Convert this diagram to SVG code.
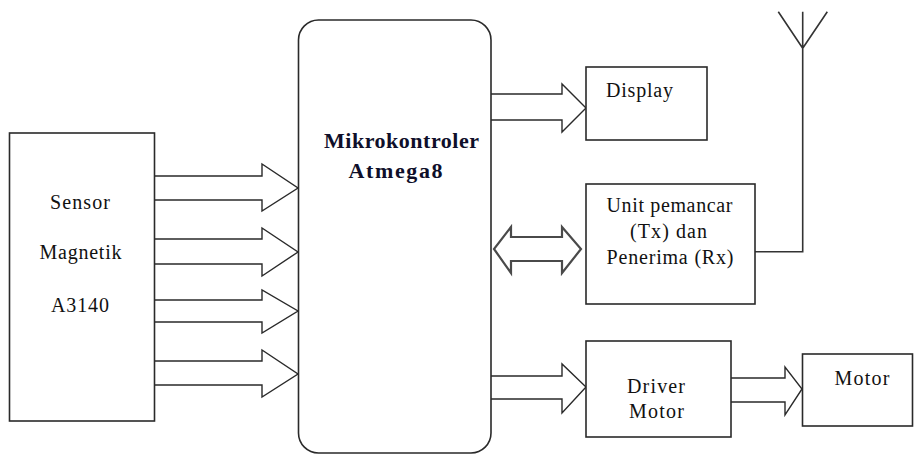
<svg xmlns="http://www.w3.org/2000/svg" width="914" height="454" viewBox="0 0 914 454">
<style>
.box{fill:#fff;stroke:#2a2a2a;stroke-width:1.6}
.arr{fill:#fff;stroke:#2a2a2a;stroke-width:1.4;stroke-linejoin:miter}
.dbl{fill:#fff;stroke:#4a4a4a;stroke-width:2.2}
.ant{fill:none;stroke:#333;stroke-width:1.6}
.t{font-family:'Times New Roman','Liberation Serif',serif;font-weight:400;font-size:20px;fill:#111}
.b{font-family:'Times New Roman','Liberation Serif',serif;font-size:22px;font-weight:bold;fill:#0f0f2a}
</style>
<rect width="914" height="454" fill="#fff"/>
<g id="connectors">
<path class="arr" d="M154,176 H262 V164 L298,188 L262,211 V200 H154"/>
<path class="arr" d="M154,239 H262 V228 L298,252 L262,276 V264 H154"/>
<path class="arr" d="M154,300 H262 V290 L298,311 L262,333 V322 H154"/>
<path class="arr" d="M154,361 H262 V350 L298,374 L262,397 V385 H154"/>
<path class="arr" d="M491,94 H562 V84 L586,108 L562,132 V120 H491"/>
<path class="arr" d="M491,376 H562 V364 L586,387 L562,413 V399 H491"/>
<path class="arr" d="M731,378 H785 V367 L802,389 L785,415 V402 H731"/>
<path class="dbl" d="M511,237 H562 V227 L581,249 L562,273 V261 H511 V273 L494,249 L511,227 Z"/>
<path class="ant" d="M755,251.7 H802.7 V11.7 M778.3,11.7 L802.7,48.3 L827.3,11.7"/>
</g>
<g id="sensor">
<rect class="box" x="9.5" y="133" width="145" height="288"/>
<text class="t" x="50" y="209" textLength="60" lengthAdjust="spacing">Sensor</text>
<text class="t" x="39.5" y="259" textLength="82" lengthAdjust="spacing">Magnetik</text>
<text class="t" x="51" y="311.5" textLength="58" lengthAdjust="spacing">A3140</text>
</g>
<g id="mcu">
<rect class="box" x="298.5" y="20" width="192.5" height="433" rx="20" ry="20"/>
<text class="b" x="324" y="148" textLength="155" lengthAdjust="spacing">Mikrokontroler</text>
<text class="b" x="348.5" y="178" textLength="94" lengthAdjust="spacing">Atmega8</text>
</g>
<g id="display">
<rect class="box" x="586" y="67" width="121" height="73"/>
<text class="t" x="606" y="96.5" textLength="67" lengthAdjust="spacing">Display</text>
</g>
<g id="unit">
<rect class="box" x="586" y="184" width="169" height="120"/>
<text class="t" x="606.5" y="212" textLength="126" lengthAdjust="spacing">Unit pemancar</text>
<text class="t" x="630" y="238" textLength="77" lengthAdjust="spacing">(Tx) dan</text>
<text class="t" x="606.5" y="264" textLength="127" lengthAdjust="spacing">Penerima (Rx)</text>
</g>
<g id="driver">
<rect class="box" x="586" y="341" width="145" height="96"/>
<text class="t" x="627" y="393" textLength="58" lengthAdjust="spacing">Driver</text>
<text class="t" x="629" y="418" textLength="55" lengthAdjust="spacing">Motor</text>
</g>
<g id="motor">
<rect class="box" x="802.5" y="354" width="110" height="72"/>
<text class="t" x="834.5" y="385" textLength="55" lengthAdjust="spacing">Motor</text>
</g>
</svg>
